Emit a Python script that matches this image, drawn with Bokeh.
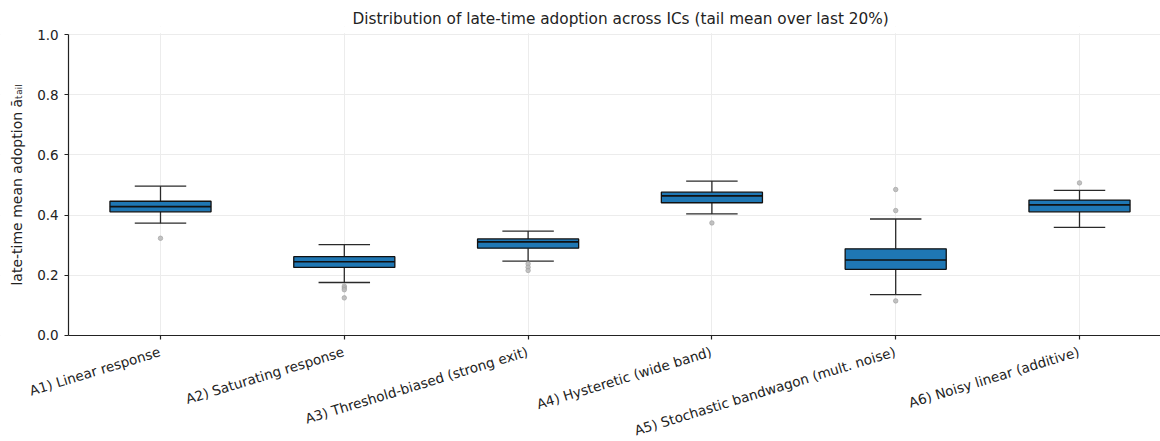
from bokeh.plotting import figure
from bokeh.models import Range1d, FixedTicker, ColumnDataSource, LabelSet, BoxAnnotation
from bokeh.core.properties import value
from bokeh.embed import file_html
from bokeh.resources import INLINE
import math

categories = [
    "A1) Linear response",
    "A2) Saturating response",
    "A3) Threshold-biased (strong exit)",
    "A4) Hysteretic (wide band)",
    "A5) Stochastic bandwagon (mult. noise)",
    "A6) Noisy linear (additive)",
]
whisker_low = [0.373, 0.176, 0.247, 0.404, 0.136, 0.359]
q1 = [0.411, 0.226, 0.290, 0.441, 0.220, 0.411]
median = [0.428, 0.245, 0.311, 0.464, 0.251, 0.434]
q3 = [0.446, 0.262, 0.321, 0.476, 0.288, 0.450]
whisker_high = [0.496, 0.302, 0.347, 0.513, 0.387, 0.482]

outlier_group = [0, 1, 1, 1, 1, 2, 2, 2, 3, 4, 4, 4, 5]
outlier_value = [0.323, 0.164, 0.158, 0.152, 0.125, 0.238, 0.227, 0.216, 0.374, 0.485, 0.415, 0.115, 0.507]

y_ticks = [0.0, 0.2, 0.4, 0.6, 0.8, 1.0]

BOX_W = 0.55
CAP_W = 0.28
X_LO, X_HI = -0.5, 5.44        # data area (axes) limits along x
Y_LO, Y_HI = 0.0, 1.0          # data area (axes) limits along y
FONT = "DejaVu Sans"

idx = list(range(len(categories)))
src = ColumnDataSource(dict(
    x=idx, lo=whisker_low, q1=q1, med=median, q3=q3, hi=whisker_high,
    bx0=[i - BOX_W / 2 for i in idx], bx1=[i + BOX_W / 2 for i in idx],
    cx0=[i - CAP_W / 2 for i in idx], cx1=[i + CAP_W / 2 for i in idx],
))
osrc = ColumnDataSource(dict(x=outlier_group, y=outlier_value))
lsrc = ColumnDataSource(dict(x=idx, y=[Y_LO] * len(idx), text=categories))

# The frame covers the whole page below the title, so that the rotated category
# labels and the tick labels are not clipped; both axes are pinned at the
# edges of the data area.
p = figure(width=1160, height=441, output_backend="svg", toolbar_location=None,
           x_range=Range1d(-0.8705, 5.4407), y_range=Range1d(-0.3522, 1.0266),
           min_border_left=0, min_border_right=0, min_border_top=26, min_border_bottom=0)

p.title.text = "Distribution of late-time adoption across ICs (tail mean over last 20%)"
p.title.align = "left"
p.title.offset = 352
p.title.text_font = FONT
p.title.text_font_size = "15.3px"
p.title.text_font_style = "normal"
p.title.text_color = "#222222"
p.title.standoff = -3

p.outline_line_color = None
p.xgrid.ticker = FixedTicker(ticks=idx)
p.ygrid.ticker = FixedTicker(ticks=y_ticks)
p.grid.grid_line_color = "#ececec"
p.grid.grid_line_width = 1

# hide the grid outside the data area
for kw in (dict(top=Y_LO), dict(right=X_LO), dict(bottom=Y_HI + 0.004)):
    p.add_layout(BoxAnnotation(fill_color="white", fill_alpha=1.0, line_color=None,
                               level="underlay", **kw))

# whiskers
p.segment(x0="x", x1="x", y0="lo", y1="q1", source=src, line_color="#2a2a2a", line_width=1.3)
p.segment(x0="x", x1="x", y0="q3", y1="hi", source=src, line_color="#2a2a2a", line_width=1.3)
p.segment(x0="cx0", x1="cx1", y0="lo", y1="lo", source=src, line_color="#2a2a2a", line_width=1.3)
p.segment(x0="cx0", x1="cx1", y0="hi", y1="hi", source=src, line_color="#2a2a2a", line_width=1.3)
# boxes
p.vbar(x="x", width=BOX_W, bottom="q1", top="q3", source=src,
       fill_color="#1f77b4", line_color="#111111", line_width=1.3)
p.segment(x0="bx0", x1="bx1", y0="med", y1="med", source=src, line_color="#111111", line_width=1.6)
# outliers
p.scatter(x="x", y="y", source=osrc, size=4.5, fill_color="#b8b8b8", line_color="#a0a0a0",
          line_width=0.8, alpha=0.85)

p.xaxis.ticker = FixedTicker(ticks=idx)
p.xaxis.major_label_overrides = {i: "" for i in idx}
p.xaxis.major_label_standoff = 0
p.xaxis.fixed_location = Y_LO
p.xaxis.bounds = (X_LO, X_HI)

p.yaxis.ticker = FixedTicker(ticks=y_ticks)
p.yaxis.fixed_location = X_LO
p.yaxis.bounds = (Y_LO, Y_HI)
p.yaxis.major_label_overrides = {t: f"{t:.1f}" for t in y_ticks}
p.yaxis.axis_label = "late-time mean adoption āₜₐᵢₗ"

for ax in (p.xaxis[0], p.yaxis[0]):
    ax.axis_line_color = "#222222"
    ax.axis_line_width = 1.2
    ax.major_tick_line_color = "#222222"
    ax.major_tick_line_width = 1.2
    ax.major_tick_out = 4
    ax.major_tick_in = 0
    ax.minor_tick_out = 0
    ax.minor_tick_in = 0
    ax.major_label_text_font = FONT
    ax.major_label_text_font_size = "13.5px"
    ax.major_label_text_color = "#222222"
    ax.axis_label_text_font = FONT
    ax.axis_label_text_font_size = "14px"
    ax.axis_label_text_font_style = "normal"
    ax.axis_label_text_color = "#222222"

p.yaxis.major_label_standoff = 6
p.yaxis.axis_label_standoff = 9

# rotated category labels, anchored at their top-right corner under each tick
labels = LabelSet(x="x", y="y", text="text", source=lsrc,
                  angle=math.radians(17), text_align="right", text_baseline="top",
                  x_offset=-3, y_offset=-8, text_font=value(FONT), text_font_size=value("13.6px"),
                  text_color="#222222")
p.add_layout(labels)

open("out.html", "w").write(file_html(p, INLINE))
